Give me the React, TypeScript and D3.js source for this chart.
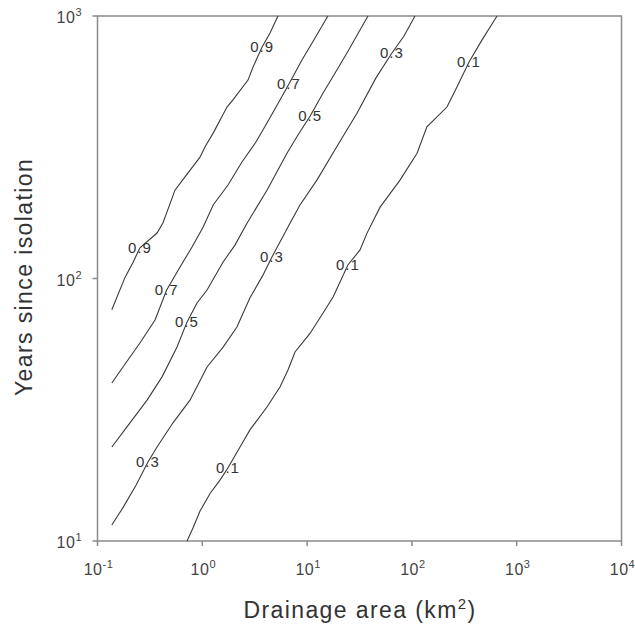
import React, { useEffect, useRef } from "react";
import * as d3 from "d3";

// contour lines: [drainage area km2, years since isolation]
const c09 = [
  [0.137, 76], [0.183, 101], [0.218, 115], [0.254, 131], [0.37, 149], [0.422, 163],
  [0.549, 217], [0.684, 244], [0.951, 290], [1.06, 317], [1.27, 358], [1.72, 450],
  [1.96, 479], [2.73, 570], [3.05, 639], [3.72, 762], [4.43, 861], [5.27, 1000],
];
const c07 = [
  [0.137, 40], [0.175, 46], [0.254, 56.8], [0.354, 69.5], [0.457, 90.4], [0.613, 110.6],
  [0.798, 131.8], [1.02, 157], [1.27, 190.5], [1.76, 227], [2.39, 278], [3.25, 331],
  [4.14, 391], [5.51, 479], [6.71, 551], [8.93, 680], [11.9, 824], [15.8, 1000],
];
const c05 = [
  [0.137, 22.8], [0.191, 27.2], [0.297, 34.4], [0.413, 42.2], [0.574, 54.8], [0.714, 68.2],
  [0.89, 80.7], [1.11, 90.4], [1.58, 115.6], [2.05, 134], [2.67, 162.5], [4.14, 217],
  [6.43, 300], [8.18, 352], [10.7, 416], [14.2, 509], [18.5, 607], [24, 723], [38.1, 1000],
];
const c03 = [
  [0.137, 11.5], [0.175, 13.4], [0.233, 16.3], [0.303, 20], [0.37, 22.8], [0.525, 28.2],
  [0.763, 34.4], [1.11, 46], [1.58, 54.8], [2.14, 65.3], [2.85, 84.4], [3.79, 103],
  [4.62, 120.8], [6.87, 162.5], [8.55, 190.5], [12.4, 237], [19.7, 323], [29.9, 426],
  [45.4, 581], [64.5, 723], [84.1, 839], [107, 1000],
];
const c01 = [
  [0.715, 10], [0.815, 11.2], [0.951, 13], [1.19, 15.2], [1.48, 17.1], [1.76, 19],
  [2.29, 22.8], [2.85, 26.5], [4.14, 32.4], [5.51, 38.6], [6.57, 44.8], [7.67, 52.5],
  [10.7, 61.9], [14.2, 73.9], [17.7, 85], [24.5, 112.6], [32, 128.5], [37.3, 148.9],
  [49.7, 187], [77, 237], [112, 300], [139, 378], [216, 450], [269, 537], [351, 668],
  [467, 811], [649, 1000],
];

const contours = [
  { level: "0.9", pts: c09, labels: [[0.254, 131], [3.72, 762]] },
  { level: "0.7", pts: c07, labels: [[0.457, 90.4], [6.71, 551]] },
  { level: "0.5", pts: c05, labels: [[0.714, 68.2], [10.7, 416]] },
  { level: "0.3", pts: c03, labels: [[0.303, 20], [4.62, 120.8], [64.5, 723]] },
  { level: "0.1", pts: c01, labels: [[1.76, 19], [24.5, 112.6], [351, 668]] },
];

const xTicks = [0.1, 1, 10, 100, 1000, 10000];
const yTicks = [10, 100, 1000];

const App = () => {
  const ref = useRef(null);

  useEffect(() => {
    const svg = d3.select(ref.current);
    svg.selectAll("*").remove();

    const left = 97.5, right = 621.5, top = 16, bottom = 541;
    const x = d3.scaleLog().domain([0.1, 10000]).range([left, right]);
    const y = d3.scaleLog().domain([10, 1000]).range([bottom, top]);
    const font = "Liberation Sans, Arial, sans-serif";
    const axisColor = "#8a8a8a";

    // frame
    svg.append("rect").attr("x", left).attr("y", top).attr("width", right - left).attr("height", bottom - top)
      .attr("fill", "none").attr("stroke", axisColor).attr("stroke-width", 1.5);

    // ticks
    svg.append("g").selectAll("line").data(xTicks).join("line")
      .attr("x1", (d) => x(d)).attr("x2", (d) => x(d)).attr("y1", bottom).attr("y2", bottom + 5)
      .attr("stroke", axisColor).attr("stroke-width", 1.5);
    svg.append("g").selectAll("line").data(yTicks).join("line")
      .attr("x1", left - 5).attr("x2", left).attr("y1", (d) => y(d)).attr("y2", (d) => y(d))
      .attr("stroke", axisColor).attr("stroke-width", 1.5);

    const xl = svg.append("g").selectAll("text").data(xTicks).join("text")
      .attr("x", (d) => x(d) + 1).attr("y", 575).attr("text-anchor", "middle")
      .attr("font-family", font).attr("font-size", 16).attr("letter-spacing", 0.5).attr("fill", "#444");
    xl.append("tspan").text("10");
    xl.append("tspan").attr("dy", -7).attr("font-size", 11).text((d) => String(Math.round(Math.log10(d))));

    const yl = svg.append("g").selectAll("text").data(yTicks).join("text")
      .attr("x", 82).attr("y", (d) => y(d) + 7).attr("text-anchor", "end")
      .attr("font-family", font).attr("font-size", 16).attr("letter-spacing", 0.5).attr("fill", "#444");
    yl.append("tspan").text("10");
    yl.append("tspan").attr("dy", -7).attr("font-size", 11).text((d) => String(Math.round(Math.log10(d))));

    // contour lines
    const line = d3.line().x((d) => x(d[0])).y((d) => y(d[1]));
    const g = svg.append("g");
    contours.forEach((c) => {
      g.append("path").datum(c.pts).attr("fill", "none").attr("stroke", "#3a3a3a").attr("stroke-width", 1.1).attr("d", line);
      g.selectAll(null).data(c.labels).join("text")
        .attr("x", (d) => x(d[0])).attr("y", (d) => y(d[1]) + 5).attr("text-anchor", "middle")
        .attr("font-family", font).attr("font-size", 15).attr("letter-spacing", 1).attr("fill", "#333")
        .text(c.level);
    });

    // axis titles
    const xt = svg.append("text").attr("x", 360).attr("y", 618).attr("text-anchor", "middle")
      .attr("font-family", font).attr("font-size", 23).attr("letter-spacing", 1.4).attr("fill", "#333");
    xt.append("tspan").text("Drainage area (km");
    xt.append("tspan").attr("dy", -9).attr("font-size", 15).text("2");
    xt.append("tspan").attr("dy", 9).text(")");

    svg.append("text").attr("transform", "translate(32,277) rotate(-90)").attr("text-anchor", "middle")
      .attr("font-family", font).attr("font-size", 23).attr("letter-spacing", 1.4).attr("fill", "#333")
      .text("Years since isolation");
  }, []);

  return <svg ref={ref} width={635} height={628} style={{ position: "absolute", left: 0, top: 0, background: "#fff" }}></svg>;
};

export default App;
